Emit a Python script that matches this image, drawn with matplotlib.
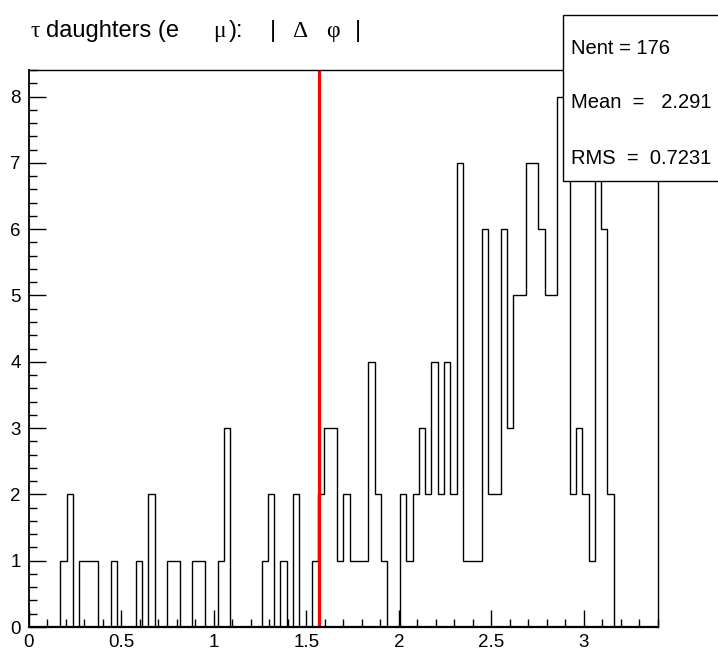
import numpy as np
import matplotlib
matplotlib.use("Agg")
import matplotlib.pyplot as plt
from matplotlib.patches import Rectangle
from matplotlib.ticker import MultipleLocator, FuncFormatter

plt.rcParams["font.family"] = ["Liberation Sans", "DejaVu Sans"]
SERIF = ["Liberation Serif", "DejaVu Serif"]
SANS = ["Liberation Sans", "DejaVu Sans"]

# histogram: 100 bins between 0 and 3.4
x_min, x_max, n_bins = 0.0, 3.4, 100
counts = [
    0, 0, 0, 0, 0, 1, 2, 0, 1, 1,
    1, 0, 0, 1, 0, 0, 0, 1, 0, 2,
    0, 0, 1, 1, 0, 0, 1, 1, 0, 0,
    1, 3, 0, 0, 0, 0, 0, 1, 2, 0,
    1, 0, 2, 0, 0, 1, 2, 3, 3, 1,
    2, 1, 1, 1, 4, 2, 1, 0, 0, 2,
    1, 2, 3, 2, 4, 2, 4, 2, 7, 1,
    1, 1, 6, 2, 2, 6, 3, 5, 5, 7,
    7, 6, 5, 5, 8, 8, 2, 3, 2, 1,
    7, 6, 2, 0, 0, 0, 0, 0, 0, 0,
]
cut_value = np.pi / 2
# title pieces (text, font, left edge in px): greek letters come from the symbol font in ROOT
title_parts = [("τ", SERIF, 31), ("daughters (e", SANS, 46), ("μ", SERIF, 213),
               ("):", SANS, 229), ("|", SANS, 270), ("Δ", SERIF, 292),
               ("φ", SERIF, 326), ("|", SANS, 355)]
stats = ["Nent = 176", "Mean  =   2.291", "RMS  =  0.7231"]

edges = np.linspace(x_min, x_max, n_bins + 1)
counts = np.array(counts)

fig = plt.figure(figsize=(7.18, 6.5), dpi=100)
ax = fig.add_axes([29 / 718, 1 - 627 / 650, (657.7 - 29) / 718, (627 - 70) / 650])

ax.stairs(counts, edges, color="black", lw=1.0, baseline=0)
ax.plot([cut_value, cut_value], [0, 8.4], color="red", lw=2.3)

ax.set_xlim(x_min, x_max)
ax.set_ylim(0, 1.05 * counts.max())

# ROOT-ish axes: ticks pointing inside, only left/bottom
ax.xaxis.set_major_locator(MultipleLocator(0.5))
ax.xaxis.set_minor_locator(MultipleLocator(0.1))
ax.yaxis.set_major_locator(MultipleLocator(1))
ax.yaxis.set_minor_locator(MultipleLocator(0.2))
ax.xaxis.set_major_formatter(FuncFormatter(lambda v, p: f"{v:g}"))
ax.tick_params(which="both", direction="in", top=False, right=False, width=1.0)
ax.tick_params(which="major", length=12, labelsize=13.5)
ax.tick_params(which="minor", length=6)
ax.tick_params(axis="x", pad=5)
ax.tick_params(axis="y", pad=6)
for s in ax.spines.values():
    s.set_linewidth(1.0)
ax.spines["bottom"].set_linewidth(1.6)
ax.spines["left"].set_linewidth(1.3)

# title
for txt, fam, xpix in title_parts:
    fig.text(xpix / 718, 1 - 37 / 650, txt, fontsize=17, family=fam,
             va="baseline", ha="left")

# stats box, runs off the right edge like the original
box = Rectangle((563 / 718, 1 - 181 / 650), 0.3, (181 - 15) / 650,
                transform=fig.transFigure, facecolor="white", edgecolor="black",
                lw=1.0, zorder=5)
fig.patches.append(box)
for line, ypix in zip(stats, [48, 103, 158]):
    fig.text(571 / 718, 1 - ypix / 650, line, fontsize=14.5, va="center",
             ha="left", zorder=6)

fig.savefig("out.png", dpi=100)
